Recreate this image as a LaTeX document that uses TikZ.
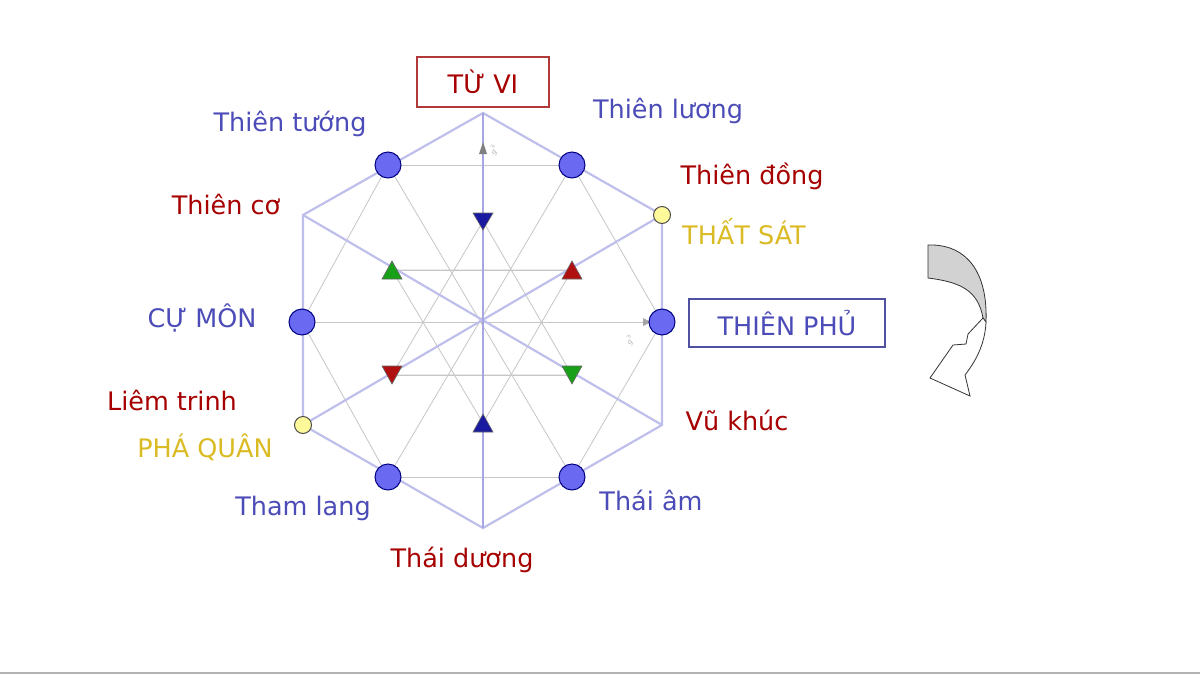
\documentclass[tikz,border=0pt]{standalone}
\usepackage{fontspec}
\setmainfont{DejaVu Sans}
\begin{document}
\begin{tikzpicture}[x=1pt,y=-1pt,
  thinl/.style={draw=gray!45,line width=0.8pt},
  thickl/.style={draw=blue!70!black!25,line width=2.2pt},
  bc/.style={circle,draw=blue!50!black,fill=blue!60!white!90!gray,line width=1pt,minimum size=26pt,inner sep=0},
  yc/.style={circle,draw=black!70,fill=yellow!40,line width=1pt,minimum size=17pt,inner sep=0},
  lab/.style={font=\fontsize{25.5}{30}\selectfont},
  bl/.style={lab,text=blue!60!black!70},
  rd/.style={lab,text=red!65!black},
  gd/.style={lab,text=yellow!70!orange!85!black}]
\definecolor{tb}{HTML}{1A1AA0}\definecolor{tr}{HTML}{B01010}\definecolor{tg}{HTML}{18A018}
\definecolor{boxr}{HTML}{B03A3A}\definecolor{boxb}{HTML}{5050A0}
\useasboundingbox (0,0) rectangle (1200,675);
\fill[white] (0,0) rectangle (1200,675);
\draw[gray!60,line width=1.5pt] (0,673) -- (1200,673);
% coordinates
\coordinate (O) at (483,322);
\coordinate (T) at (483,113); \coordinate (UR) at (662,215); \coordinate (LR) at (662,425);
\coordinate (B) at (483,528); \coordinate (LL) at (303,425); \coordinate (UL) at (303,215);
\coordinate (c1) at (388,165); \coordinate (c2) at (572,165); \coordinate (c3) at (662,322);
\coordinate (c4) at (572,477); \coordinate (c5) at (388,477); \coordinate (c6) at (302,322);
\coordinate (tD) at (483,221); \coordinate (tU) at (483,423);
\coordinate (gU) at (392,270); \coordinate (rU) at (572,270);
\coordinate (rD) at (392,375); \coordinate (gD) at (572,375);
% thin lines
\draw[thinl] (c1)--(c2) (c5)--(c4) (c6)--(c3) (gU)--(rU) (rD)--(gD);
\draw[thinl] (c1)--(c6)--(c5) (c2)--(c3)--(c4);
\draw[thinl] (c1)--(c4) (c2)--(c5);
\draw[thinl] (tD)--(rD)--(gD)--cycle (tU)--(gU)--(rU)--cycle;
% thick lines
\draw[thickl] (T)--(UR)--(LR)--(B)--(LL)--(UL)--cycle;
\draw[thickl] (UL)--(LR) (UR)--(LL);
\draw[draw=blue!70!black!35,line width=1.5pt] (T)--(B);
% g3 marks
\fill[gray] (483,142)--(479,154)--(487,154)--cycle;
\node[text=gray!70,font=\small,rotate=60] (g1) at (494,150) {$g^3$};
\fill[gray!70] (651,322)--(643,318)--(643,326)--cycle;
\node[text=gray!70,font=\small,rotate=60] (g2) at (630,340) {$g^3$};
% circles
\foreach \c in {c1,c2,c3,c4,c5,c6} \node[bc] (n\c) at (\c) {};
\node[yc] (y1) at (UR) {}; \node[yc] (y2) at (LL) {};
% triangles
\tikzset{tri/.style={draw=black!60,line width=0.6pt}}
\filldraw[tri,fill=tb] (473,213)--(493,213)--(483,230)--cycle;
\filldraw[tri,fill=tb] (473,432)--(493,432)--(483,414)--cycle;
\filldraw[tri,fill=tg] (382,279)--(402,279)--(392,261)--cycle;
\filldraw[tri,fill=tr] (562,279)--(582,279)--(572,261)--cycle;
\filldraw[tri,fill=tr] (382,366)--(402,366)--(392,384)--cycle;
\filldraw[tri,fill=tg] (562,366)--(582,366)--(572,384)--cycle;
% boxes
\node[rd,draw=boxr,line width=1.2pt,minimum width=132pt,minimum height=50pt] (tuvi) at (483,82) {TỪ VI};
\node[bl,draw=boxb,line width=1.2pt,minimum width=196pt,minimum height=48pt] (tphu) at (787,323) {THIÊN PHỦ};
% labels
\node[bl] (l1) at (290,124) {Thiên tướng};
\node[bl] (l2) at (668,111) {Thiên lương};
\node[rd] (l3) at (752,176) {Thiên đồng};
\node[gd] (l4) at (744,232) {THẤT SÁT};
\node[rd] (l5) at (226,204) {Thiên cơ};
\node[bl] (l6) at (202,318) {CỰ MÔN};
\node[rd] (l7) at (172,400) {Liêm trinh};
\node[gd] (l8) at (205,447) {PHÁ QUÂN};
\node[bl] (l9) at (303,508) {Tham lang};
\node[rd] (l10) at (462,560) {Thái dương};
\node[bl] (l11) at (651,500) {Thái âm};
\node[rd] (l12) at (737,420) {Vũ khúc};
% curved arrow
\filldraw[draw=black!80,fill=gray!35,line width=0.8pt] (928,245) -- (933,245) .. controls (965,246) and (988,270) .. (986,322) -- (983,318) .. controls (978,290) and (960,282) .. (928,278) -- cycle;
\filldraw[draw=black!80,fill=white,line width=0.8pt] (986,322) .. controls (985,345) and (975,362) .. (965,375) -- (970,396) -- (930,378) -- (953,345) -- (966,344) -- (968,334) -- (983,318) -- cycle;
\end{tikzpicture}
\end{document}
